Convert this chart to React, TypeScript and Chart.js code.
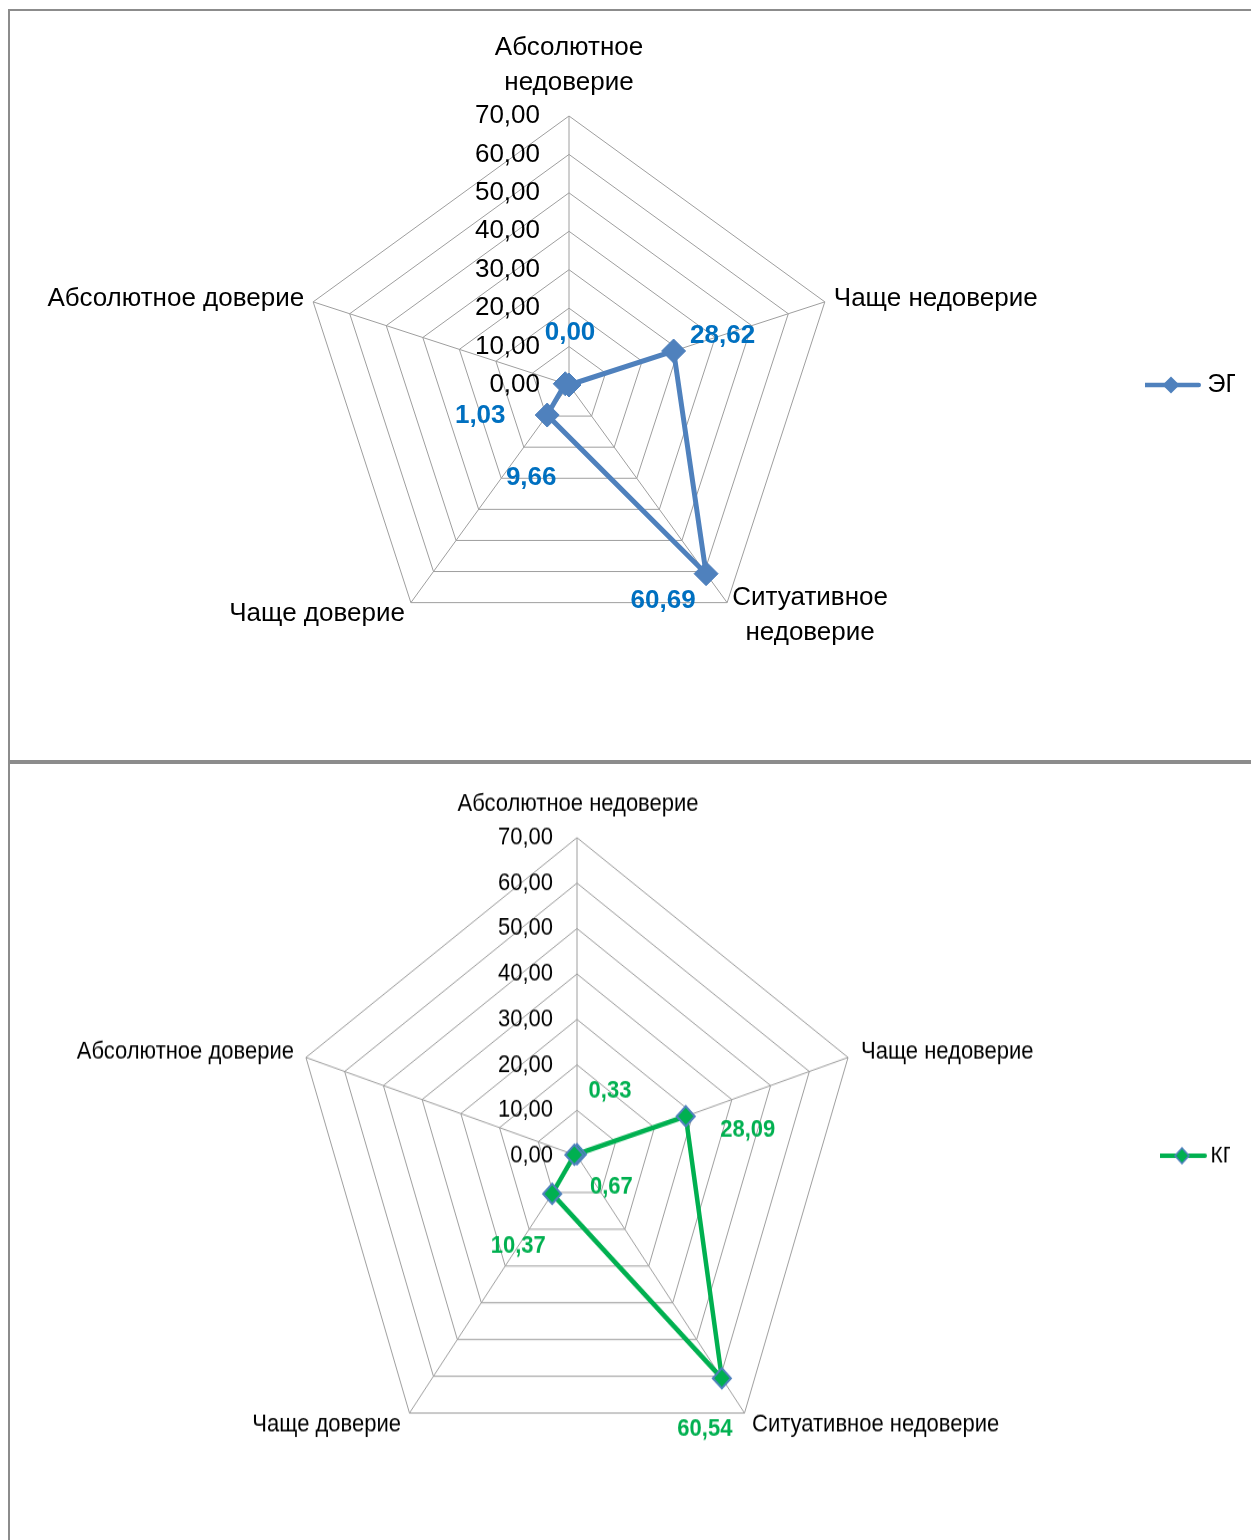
import React, { useEffect, useRef } from 'react';
import { Chart, registerables } from 'chart.js';

Chart.register(...registerables);

// ---- data ----
const categories = [
  'Абсолютное недоверие',
  'Чаще недоверие',
  'Ситуативное недоверие',
  'Чаще доверие',
  'Абсолютное доверие',
];
const egValues = [0.0, 28.62, 60.69, 9.66, 1.03];
const kgValues = [0.33, 28.09, 60.54, 10.37, 0.67];
const tickValues = [0, 10, 20, 30, 40, 50, 60, 70];
const seriesNames = ['ЭГ', 'КГ'];

const FONT = '"Liberation Sans", Arial, sans-serif';
Chart.defaults.font.family = FONT;

const fmt = (v: number) => v.toFixed(2).replace('.', ',');

type Place = { dx: number; dy: number; align: CanvasTextAlign; wrap?: boolean };

interface TextCfg {
  tickSize: number;
  tickGap: number;
  labelSize: number;
  lineHeight: number;
  labelPlaces: Place[];
  valueSize: number;
  valueColor: string;
  valueOffsets: [number, number][];
}

// Axis ticks, category names and value labels drawn through the radial scale
function radarText(cfg: TextCfg) {
  return {
    id: 'radarText',
    beforeDatasetsDraw(chart: any) {
      const r = chart.scales.r;
      const ctx: CanvasRenderingContext2D = chart.ctx;
      ctx.save();
      ctx.fillStyle = '#000';
      ctx.textBaseline = 'middle';
      ctx.font = `${cfg.tickSize}px ${FONT}`;
      ctx.textAlign = 'right';
      tickValues.forEach((v) => {
        const d = r.getDistanceFromCenterForValue(v);
        ctx.fillText(fmt(v), r.xCenter - cfg.tickGap, r.yCenter - d);
      });
      ctx.font = `${cfg.labelSize}px ${FONT}`;
      (chart.data.labels as string[]).forEach((label, i) => {
        const p = r.getPointPosition(i, r.drawingArea);
        const place = cfg.labelPlaces[i];
        const lines = place.wrap ? label.split(' ') : [label];
        ctx.textAlign = place.align;
        lines.forEach((line, k) => {
          ctx.fillText(line, p.x + place.dx, p.y + place.dy + k * cfg.lineHeight);
        });
      });
      ctx.restore();
    },
    afterDatasetsDraw(chart: any) {
      const ctx: CanvasRenderingContext2D = chart.ctx;
      const meta = chart.getDatasetMeta(0);
      const values = chart.data.datasets[0].data as number[];
      ctx.save();
      ctx.font = `bold ${cfg.valueSize}px ${FONT}`;
      ctx.fillStyle = cfg.valueColor;
      ctx.textAlign = 'center';
      ctx.textBaseline = 'middle';
      meta.data.forEach((pt: any, i: number) => {
        const [dx, dy] = cfg.valueOffsets[i];
        ctx.fillText(fmt(values[i]), pt.x + dx, pt.y + dy);
      });
      ctx.restore();
    },
  };
}

// Legend marker: a short line with a diamond on it
function legendIcon(
  w: number, h: number, lineEnd: number, diamondX: number, radius: number,
  color: string, border: string, lineWidth: number
) {
  const c = document.createElement('canvas');
  c.width = w;
  c.height = h;
  const g = c.getContext('2d')!;
  const y = h / 2;
  g.strokeStyle = color;
  g.lineWidth = lineWidth;
  g.lineCap = 'round';
  g.beginPath();
  g.moveTo(lineWidth / 2, y);
  g.lineTo(lineEnd - lineWidth / 2, y);
  g.stroke();
  g.beginPath();
  g.moveTo(diamondX - radius, y);
  g.lineTo(diamondX, y - radius);
  g.lineTo(diamondX + radius, y);
  g.lineTo(diamondX, y + radius);
  g.closePath();
  g.fillStyle = color;
  g.fill();
  if (border !== color) {
    g.strokeStyle = border;
    g.lineWidth = 1.5;
    g.stroke();
  }
  return c;
}

interface RadarProps {
  name: string;
  values: number[];
  color: string;
  pointBorder: string;
  lineWidth: number;
  pointRadius: number;
  pointBorderWidth: number;
  padding: { left: number; right: number; top: number; bottom: number };
  legendFont: number;
  legendMax: number;
  legendBoxWidth: number;
  icon: () => HTMLCanvasElement;
  text: TextCfg;
}

function Radar(props: RadarProps) {
  const ref = useRef<HTMLCanvasElement>(null);
  useEffect(() => {
    if (!ref.current) return;
    const chart = new Chart(ref.current, {
      type: 'radar',
      data: {
        labels: categories,
        datasets: [
          {
            label: props.name,
            data: props.values,
            borderColor: props.color,
            backgroundColor: props.color,
            borderWidth: props.lineWidth,
            fill: false,
            tension: 0,
            pointStyle: 'rectRot',
            pointRadius: props.pointRadius,
            pointHoverRadius: props.pointRadius,
            pointBackgroundColor: props.color,
            pointBorderColor: props.pointBorder,
            pointBorderWidth: props.pointBorderWidth,
          },
        ],
      },
      options: {
        responsive: true,
        maintainAspectRatio: false,
        animation: false,
        layout: { padding: props.padding },
        plugins: {
          legend: {
            position: 'right',
            align: 'center',
            maxWidth: props.legendMax,
            labels: {
              usePointStyle: true,
              pointStyle: props.icon(),
              pointStyleWidth: props.legendBoxWidth,
              padding: 10,
              color: '#000',
              font: { family: FONT, size: props.legendFont },
            },
          },
          tooltip: { enabled: false },
        },
        scales: {
          r: {
            min: tickValues[0],
            max: tickValues[tickValues.length - 1],
            ticks: { display: false, stepSize: tickValues[1] - tickValues[0] },
            pointLabels: { display: false },
            grid: { color: '#9e9e9e', lineWidth: 1 },
            angleLines: { color: '#9e9e9e', lineWidth: 1 },
          },
        },
      } as any,
      plugins: [radarText(props.text)],
    });
    return () => chart.destroy();
  }, []);
  return <canvas ref={ref} />;
}

export default function App() {
  const border = '2px solid #8c8c8c';
  return (
    <div
      style={{
        position: 'fixed', left: 0, top: 0, width: 1251, height: 1540,
        overflow: 'hidden', background: '#fff',
      }}
    >
      <div style={{ position: 'absolute', left: 8, top: 9, width: 1300, height: 749, borderTop: border, borderLeft: border, borderBottom: border }} />
      <div style={{ position: 'absolute', left: 8, top: 762, width: 1300, height: 800, borderTop: border, borderLeft: border }} />

      <div style={{ position: 'absolute', left: -20, top: 11, width: 1285, height: 749 }}>
        <Radar
          name={seriesNames[0]}
          values={egValues}
          color="#4F81BD"
          pointBorder="#4F81BD"
          lineWidth={5}
          pointRadius={12}
          pointBorderWidth={1}
          padding={{ left: 13, right: 30, top: 105, bottom: 106 }}
          legendFont={25}
          legendMax={90}
          legendBoxWidth={40}
          icon={() => legendIcon(66, 30, 59, 29, 8.5, '#4F81BD', '#4F81BD', 4.5)}
          text={{
            tickSize: 26,
            tickGap: 29,
            labelSize: 26,
            lineHeight: 35,
            labelPlaces: [
              { dx: 0, dy: -68, align: 'center', wrap: true },
              { dx: 9, dy: -3, align: 'left' },
              { dx: 83, dy: -5, align: 'center', wrap: true },
              { dx: -6, dy: 11, align: 'right' },
              { dx: -9, dy: -3, align: 'right' },
            ],
            valueSize: 26,
            valueColor: '#0070C0',
            valueOffsets: [[1, -52], [49, -15], [-43, 27], [-16, 63], [-85, 32]],
          }}
        />
      </div>

      <div
        style={{
          position: 'absolute', left: -20, top: 764, width: 1280, height: 695,
          transform: 'scaleY(1.116)', transformOrigin: 'top left',
        }}
      >
        <Radar
          name={seriesNames[1]}
          values={kgValues}
          color="#00B050"
          pointBorder="#4F81BD"
          lineWidth={4.5}
          pointRadius={9}
          pointBorderWidth={2}
          padding={{ left: 14, right: 30, top: 66, bottom: 59 }}
          legendFont={21}
          legendMax={70}
          legendBoxWidth={30}
          icon={() => legendIcon(56, 24, 50, 25, 7, '#00B050', '#4F81BD', 4)}
          text={{
            tickSize: 22,
            tickGap: 24,
            labelSize: 22,
            lineHeight: 26,
            labelPlaces: [
              { dx: 1, dy: -30, align: 'center' },
              { dx: 13, dy: -4.5, align: 'left' },
              { dx: 7.5, dy: 10.5, align: 'left' },
              { dx: -8.5, dy: 10.5, align: 'right' },
              { dx: -12, dy: -4.5, align: 'right' },
            ],
            valueSize: 22,
            valueColor: '#00B050',
            valueOffsets: [[33, -57], [62, 12.5], [-17, 46], [-34, 46.5], [37, 28.5]],
          }}
        />
      </div>
    </div>
  );
}
